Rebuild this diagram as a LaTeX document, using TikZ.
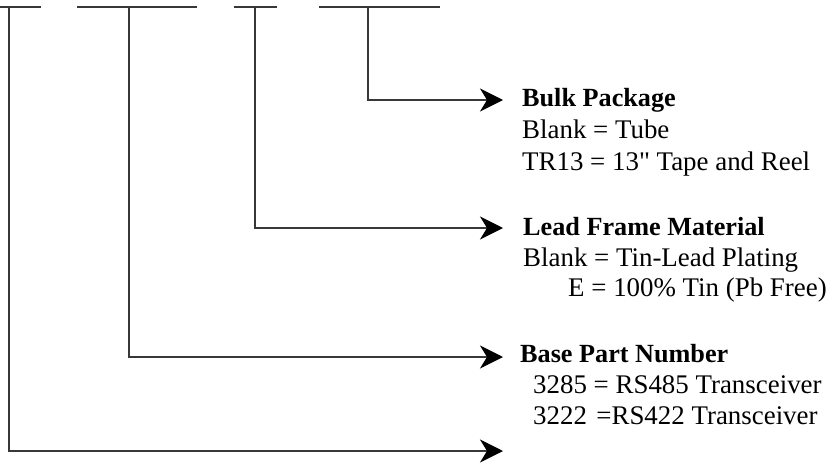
\documentclass[tikz,border=0pt]{standalone}
\usepackage{fontspec}
\setmainfont{Liberation Serif}
\newfontfamily\straightq{Liberation Serif}
\usetikzlibrary{arrows.meta}
\begin{document}
\begin{tikzpicture}[x=1pt,y=-1pt,
  wire/.style={draw=black!78,line width=2pt},
  feed/.style={wire,-{Stealth[length=23pt,width=23pt,inset=7pt,black]}},
  title/.style={anchor=base west,inner sep=0pt,font=\fontsize{26.2}{30}\selectfont\bfseries},
  desc/.style={anchor=base west,inner sep=0pt,font=\fontsize{26.9}{30}\selectfont}]
\useasboundingbox (0,0) rectangle (830,463);
% top bars
\draw[wire] (0,7) -- (41,7);
\draw[wire] (77,7) -- (197,7);
\draw[wire] (234,7) -- (277,7);
\draw[wire] (319,7) -- (440,7);
\coordinate (t1) at (9,7);
\coordinate (t2) at (129,7);
\coordinate (t3) at (255,7);
\coordinate (t4) at (368,7);
\coordinate (e1) at (503,451);
\coordinate (e2) at (503,357);
\coordinate (e3) at (503,228);
\coordinate (e4) at (503,100);
% texts
\node[title] (bulk) at (522,106) {Bulk Package};
\node[desc] (bulka) at (522,138) {Blank = Tube};
\node[desc] (bulkb) at (522,170) {TR13 = 13{\straightq\char34} Tape and Reel};
\node[title] (lead) at (523,235.5) {Lead Frame Material};
\node[desc] (leada) at (523,266) {Blank = Tin-Lead Plating};
\node[desc] (leadb) at (568,296.5) {E = 100\% Tin (Pb Free)};
\node[title] (base) at (520,362) {Base Part Number};
\node[desc] (basea) at (533,393) {3285 = RS485 Transceiver};
\node[desc] (baseb) at (533,424) {3222\hspace{0.35em}=RS422 Transceiver};
% connectors
\draw[feed] (t4) |- (e4);
\draw[feed] (t3) |- (e3);
\draw[feed] (t2) |- (e2);
\draw[feed] (t1) |- (e1);
\end{tikzpicture}
\end{document}
